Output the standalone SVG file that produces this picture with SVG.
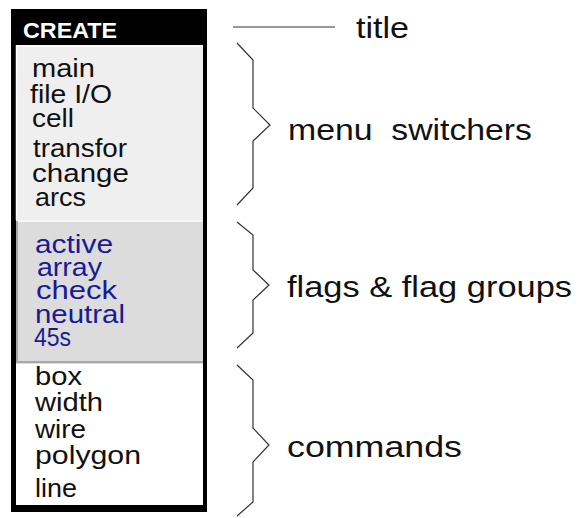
<svg xmlns="http://www.w3.org/2000/svg" width="578" height="518" viewBox="0 0 578 518">
  <style>
    .item { font-family: "Liberation Sans", Arial, sans-serif; font-size: 26px; fill: #111; }
    .flag { fill: #1a1a96; }
    .label { font-family: "Liberation Sans", Arial, sans-serif; font-size: 29px; fill: #111; }
    .head { font-family: "Liberation Sans", Arial, sans-serif; font-size: 22px; font-weight: bold; fill: #fff; }
    .brace { fill: none; stroke: #333; stroke-width: 1.2; stroke-linejoin: miter; }
  </style>

  <!-- menu frame with title bar -->
  <g id="create-menu">
    <rect x="11" y="9" width="196" height="503" fill="#000"/>
    <text class="head" x="23" y="37.5" textLength="94" lengthAdjust="spacingAndGlyphs">CREATE</text>
  </g>

  <!-- menu switcher buttons -->
  <g id="menu-switchers">
    <rect x="16" y="45" width="187" height="175" fill="#efefef"/>
    <path d="M16 46 H203 M16.5 45 V220" stroke="#fff" stroke-width="1.5" fill="none"/>
    <text class="item" x="32" y="77" textLength="63" lengthAdjust="spacingAndGlyphs">main</text>
    <text class="item" x="30" y="103" textLength="82" lengthAdjust="spacingAndGlyphs">file I/O</text>
    <text class="item" x="32" y="127" textLength="42" lengthAdjust="spacingAndGlyphs">cell</text>
    <text class="item" x="33" y="157" textLength="94" lengthAdjust="spacingAndGlyphs">transfor</text>
    <text class="item" x="32" y="182" textLength="97" lengthAdjust="spacingAndGlyphs">change</text>
    <text class="item" x="35" y="206" textLength="51" lengthAdjust="spacingAndGlyphs">arcs</text>
  </g>

  <!-- flags and flag groups -->
  <g id="flags">
    <rect x="16" y="220" width="187" height="144" fill="#dcdcdc"/>
    <path d="M16 221 H203" stroke="#fff" stroke-width="1.5" fill="none"/>
    <path d="M17 221 V362 H203" stroke="#a8a8a8" stroke-width="2" fill="none"/>
    <text class="item flag" x="35" y="253" textLength="78" lengthAdjust="spacingAndGlyphs">active</text>
    <text class="item flag" x="37" y="276" textLength="65" lengthAdjust="spacingAndGlyphs">array</text>
    <text class="item flag" x="36" y="299" textLength="81" lengthAdjust="spacingAndGlyphs">check</text>
    <text class="item flag" x="35" y="323" textLength="90" lengthAdjust="spacingAndGlyphs">neutral</text>
    <text class="item flag" x="34" y="346" textLength="37" lengthAdjust="spacingAndGlyphs">45s</text>
  </g>

  <!-- command buttons -->
  <g id="commands">
    <rect x="16" y="364" width="187" height="141" fill="#fff"/>
    <text class="item" x="35" y="385" textLength="47" lengthAdjust="spacingAndGlyphs">box</text>
    <text class="item" x="35" y="411" textLength="68" lengthAdjust="spacingAndGlyphs">width</text>
    <text class="item" x="35" y="438" textLength="51" lengthAdjust="spacingAndGlyphs">wire</text>
    <text class="item" x="35" y="464" textLength="106" lengthAdjust="spacingAndGlyphs">polygon</text>
    <text class="item" x="35" y="497" textLength="42" lengthAdjust="spacingAndGlyphs">line</text>
  </g>

  <!-- callout labels -->
  <g id="label-title">
    <text class="label" x="356" y="38" textLength="53" lengthAdjust="spacingAndGlyphs">title</text>
  </g>
  <g id="label-menu-switchers">
    <text class="label" x="288" y="140" textLength="244" lengthAdjust="spacingAndGlyphs" xml:space="preserve">menu  switchers</text>
  </g>
  <g id="label-flags">
    <text class="label" x="287" y="297" textLength="285" lengthAdjust="spacingAndGlyphs">flags &amp; flag groups</text>
  </g>
  <g id="label-commands">
    <text class="label" x="287" y="457" textLength="175" lengthAdjust="spacingAndGlyphs">commands</text>
  </g>

  <!-- leader line and braces -->
  <g id="connectors">
    <line x1="233" y1="27" x2="335" y2="27" stroke="#333" stroke-width="1.2"/>
    <path class="brace" d="M237 43 L253 60 V108 L270 125 L253 141 V188 L237 205"/>
    <path class="brace" d="M237 222 L253 235 V270 L269 285 L253 300 V333 L237 348"/>
    <path class="brace" d="M237 365 L253 380 V428 L269 445 L253 462 V502 L237 516"/>
  </g>
</svg>
